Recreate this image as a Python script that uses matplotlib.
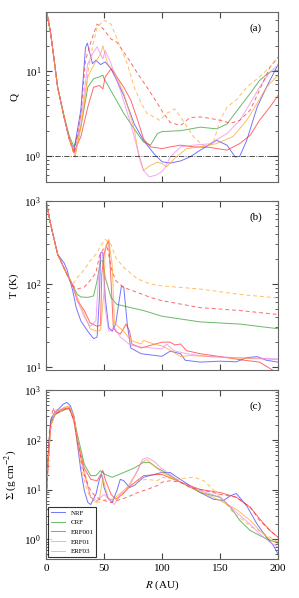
import matplotlib
matplotlib.use("Agg")
import matplotlib.pyplot as plt

plt.rcParams['font.family'] = ['Liberation Serif', 'DejaVu Serif']
plt.rcParams['mathtext.fontset'] = 'stix'

# ---- panel (a): Toomre Q ----
r_nrf_a = [0, 4, 10, 15.5, 20, 24, 30, 34, 35.6, 40, 43, 47, 51, 56, 61, 67, 76, 84, 93, 100,
           107, 116, 124, 133, 147, 156, 163, 167, 173, 182, 190, 200]
q_nrf = [55, 28, 6.5, 2.9, 1.6, 1.17, 3.5, 19, 21.5, 12.3, 13.5, 12, 12.9, 10.7, 7.8, 5.2, 2.4, 1.54, 1.07, 0.86,
         0.83, 0.88, 0.98, 1.18, 1.54, 1.35, 0.98, 1.0, 1.54, 3.8, 6.5, 12]
r_crf_a = [0, 4, 10, 15.5, 20, 24, 30, 36, 41, 46, 49, 50, 59, 67, 76, 84, 90, 96, 100, 116, 133, 147,
           156, 167, 176, 184, 193, 200]
q_crf = [55, 28, 6.5, 3.0, 1.75, 1.29, 2.2, 6.5, 8.2, 8.6, 9, 8.2, 5, 3.2, 2.1, 1.47, 1.35, 1.85, 1.95, 2.0, 2.2, 2.1,
         2.4, 3.8, 5.5, 7.8, 9.8, 10.3]
r_e001_a = [0, 4, 10, 15.5, 20, 24, 30, 36, 41, 46, 49, 51, 56, 61, 67, 73, 79, 84, 90, 100, 107, 116, 127,
            141, 156, 167, 176, 184, 193, 200]
q_e001 = [55, 28, 6.5, 2.9, 1.6, 1.12, 1.7, 3.8, 6.5, 6.8, 6.2, 8.6, 10.7, 8.6, 6.5, 4.6, 2.65, 1.6, 1.29, 1.23, 1.29,
          1.35, 1.29, 1.27, 1.18, 1.41, 1.77, 2.65, 3.8, 5.2]
r_e001d_a = [0, 4, 10, 15.5, 20, 24, 30, 34, 39, 44, 49, 56, 61, 70, 79, 87, 96, 100, 107, 116, 124, 133,
             141, 150, 159, 167, 176, 184, 193, 200]
q_e001d = [55, 28, 6.5, 2.9, 1.6, 1.07, 3.2, 13.5, 23, 36, 32, 24, 22, 14.7, 9.4, 6.5, 4.2, 3.4, 2.5, 2.3, 2.85, 2.9,
           2.8, 2.65, 2.45, 2.65, 3.5, 6, 11.2, 14.7]
r_e01_a = [0, 4, 10, 15.5, 20, 25, 30, 36, 41, 47, 49, 53, 59, 67, 76, 80, 84, 90, 96, 100, 104, 110, 121,
           133, 147, 161, 173, 182, 190, 200]
q_e01 = [55, 28, 6.5, 2.9, 1.6, 0.98, 2.2, 8.6, 11.8, 16, 20, 12.3, 9.8, 5.5, 2.1, 0.98, 0.68, 0.78, 0.85, 0.82, 0.75,
         0.92, 1.23, 1.29, 1.41, 1.7, 2.65, 4.2, 6.5, 9]
r_e01d_a = [0, 4, 10, 15.5, 20, 25, 31, 36, 40, 44, 50, 56, 63, 70, 76, 82, 87, 93, 98, 104, 111, 118, 127,
            136, 144, 150, 156, 164, 173, 184, 193, 200]
q_e01d = [55, 28, 6.5, 2.9, 1.6, 0.98, 2.65, 9.4, 19.4, 33, 40, 36, 21, 12.3, 6.5, 4.2, 3.2, 2.9, 2.65, 3.2, 3.6,
          2.65, 1.7, 1.31, 1.41, 2.65, 3.8, 4.6, 6.5, 8.6, 11.2, 14.7]
r_e03_a = [0, 4, 10, 15.5, 20, 25, 31, 36, 40, 44, 49, 51, 56, 64, 73, 79, 84, 89, 95, 100, 103, 107, 116,
           127, 141, 156, 167, 176, 184, 193, 200]
q_e03 = [55, 28, 6.5, 2.9, 1.6, 1.07, 3.5, 12.3, 16, 19.4, 14, 17.6, 12.3, 6, 2.4, 1.18, 0.68, 0.57, 0.6, 0.66, 0.75,
         0.98, 1.29, 1.35, 1.4, 1.85, 2.65, 4.2, 6.5, 9.8, 11.8]

# ---- panel (b): temperature ----
r_nrf_b = [0, 4, 10, 15.5, 18, 23, 26, 30, 36, 41, 44, 46, 47, 49, 51, 54, 57, 60, 63, 65, 67, 70, 73, 82,
           100, 107, 116, 120, 133, 150, 164, 173, 182, 190, 200]
t_nrf = [1000, 520, 228, 180, 150, 83, 52, 36, 27, 22, 23, 69, 238, 238, 69, 30, 27, 33, 63, 95, 91, 33, 17, 14.5,
         13.5, 15.6, 14.5, 12.1, 11.5, 11.8, 11.6, 13, 13.4, 12.1, 11.5]
r_crf_b = [0, 4, 10, 14, 18, 23, 27, 30, 36, 41, 44, 47, 49, 51, 56, 61, 73, 84, 100, 133, 167, 200]
t_crf = [1000, 520, 228, 173, 131, 97, 75, 70, 69, 72, 110, 190, 190, 120, 69, 57, 52, 48, 41, 35, 33, 29]
r_e001_b = [0, 4, 10, 14, 18, 23, 27, 33, 38, 44, 47, 48, 50, 53, 54, 56, 58, 60, 64, 69, 72, 74, 82, 100,
            107, 111, 116, 121, 133, 150, 167, 184, 196, 200]
t_e001 = [1000, 520, 228, 173, 131, 95, 63, 48, 34, 31, 32, 130, 230, 314, 330, 110, 30, 27, 25, 33, 27, 19, 17, 20,
          20, 18.5, 19, 15.8, 14.5, 13.4, 12.3, 11.5, 9.1, 8.5]
r_e001d_b = [0, 4, 10, 14, 18, 23, 27, 33, 38, 43, 46, 49, 53, 56, 60, 67, 79, 90, 100, 133, 167, 200]
t_e001d = [1000, 520, 228, 173, 131, 95, 87, 92, 110, 137, 218, 261, 273, 158, 110, 91, 79, 69, 63, 52, 48, 43]
r_e01_b = [0, 4, 10, 14, 18, 23, 27, 33, 38, 44, 47, 50, 51, 54, 57, 59, 61, 67, 73, 82, 84, 93, 100, 107,
           116, 124, 141, 167, 184, 200]
t_e01 = [1000, 520, 228, 173, 131, 97, 69, 43, 29, 27, 28, 83, 273, 345, 173, 33, 32, 27, 21, 19, 21, 19, 18, 16,
         13.4, 13.8, 13.4, 12.8, 12.6, 12.3]
r_e01d_b = [0, 4, 10, 14, 18, 23, 27, 33, 38, 43, 47, 51, 56, 60, 67, 79, 90, 100, 133, 167, 200]
t_e01d = [1000, 520, 228, 173, 131, 100, 120, 150, 190, 228, 286, 345, 300, 208, 158, 115, 100, 95, 87, 75, 68]
r_e03_b = [0, 4, 10, 14, 18, 23, 27, 33, 38, 43, 45, 47, 49, 51, 54, 59, 64, 73, 84, 100, 104, 110, 121,
           141, 167, 200]
t_e03 = [1000, 520, 228, 173, 131, 97, 63, 40, 31, 36, 110, 238, 238, 52, 27, 30, 23, 18.3, 17.3, 16.6, 19, 15.8,
         14.5, 13.4, 13, 12.6]

# ---- panel (c): surface density ----
r_nrf_c = [0, 2, 4, 7, 11, 15, 18, 21, 24, 27, 30, 33, 36, 38.5, 43, 46, 48, 50, 53, 57, 61, 64, 67, 72, 76,
           84, 93, 100, 107, 113, 124, 133, 144, 153, 159, 164, 173, 182, 190, 196, 200]
s_nrf = [8, 60, 250, 340, 420, 520, 560, 480, 300, 81, 24, 9.5, 5.5, 5, 8, 16, 20, 11, 7, 5.5, 9.5, 16, 15, 11, 12,
         17.6, 20, 22, 22, 17.6, 12, 8.7, 6.4, 6, 7.5, 8.3, 4.7, 2.0, 1.1, 0.75, 0.5]
r_crf_c = [0, 2, 4, 8, 12, 16, 20, 21, 24, 27, 33, 38.5, 43, 47, 51, 57, 67, 76, 84, 89, 96, 100, 116, 133,
           150, 159, 167, 176, 184, 193, 200]
s_crf = [7, 50, 230, 320, 360, 400, 420, 375, 275, 128, 32, 19, 19, 24, 20, 17.6, 22, 27, 35, 35, 27, 24, 14, 8.7,
         7, 4.4, 2.4, 1.5, 1.2, 0.95, 0.87]
r_e001_c = [0, 2, 4, 8, 12, 16, 20, 24, 27, 33, 38.5, 44, 49, 51, 56, 60, 66, 73, 84, 96, 100, 116, 133, 150,
            164, 176, 184, 193, 200]
s_e001 = [5, 40, 200, 330, 380, 420, 430, 236, 94, 27, 16, 15, 24, 16, 8, 6.4, 8, 12, 19, 20, 20, 14, 10, 8.7,
          7, 4.4, 2.6, 1.5, 1.1]
r_e001d_c = [0, 1.5, 3, 6, 8, 12, 16, 20, 24, 27, 33, 37, 41, 46, 50, 56, 61, 70, 79, 87, 96, 100, 107, 116,
             124, 133, 150, 164, 176, 184, 193, 200]
s_e001d = [3, 30, 150, 440, 330, 370, 410, 420, 250, 94, 20, 11, 8, 6.4, 6, 5.5, 6, 7, 8.7, 10, 12, 14, 15, 14,
           11, 10, 8, 7, 4.4, 2.4, 1.5, 1.1]
r_e01_c = [0, 2, 4, 8, 12, 16, 20, 24, 27, 33, 38.5, 43, 46, 49, 51, 54, 57, 63, 70, 77, 82, 87, 93, 100, 116,
           133, 150, 164, 176, 184, 193, 200]
s_e01 = [5, 40, 200, 330, 400, 450, 470, 300, 110, 24, 7, 5.5, 6.4, 17.6, 11, 6.4, 6.2, 8, 11, 20, 35, 40, 30, 22,
         14, 9, 6, 4, 2.4, 1.5, 1.0, 0.8]
r_e01d_c = [0, 2, 4, 8, 12, 16, 20, 24, 27, 31, 34, 37, 41, 46, 50, 54, 59, 64, 70, 79, 87, 96, 100, 113, 121,
            127, 136, 144, 153, 161, 170, 177, 182, 190, 200]
s_e01d = [5, 40, 150, 400, 380, 420, 450, 275, 81, 24, 12, 8, 6, 5.5, 6.2, 6.4, 6.4, 7, 11, 15, 16, 15, 17.6, 16,
          17, 17.8, 15, 10, 6, 3.5, 2.4, 1.75, 1.6, 1.2, 0.9]
r_e03_c = [0, 2, 4, 8, 12, 16, 20, 24, 27, 33, 38.5, 44, 50, 54, 59, 64, 70, 79, 83, 87, 93, 100, 107, 116,
           133, 150, 164, 176, 184, 193, 200]
s_e03 = [5, 40, 200, 330, 400, 440, 450, 275, 94, 20, 7, 6, 8, 6.4, 5, 8, 10, 24, 40, 44, 37, 26, 20, 14, 9.5,
         7, 3.5, 2.0, 1.3, 0.87, 0.7]

labels = ['NRF', 'CRF', 'ERF001', 'ERF01', 'ERF03']
colors = ['#3a3aff', '#2e9a2e', '#ff2a2a', '#ffa21f', '#ee82ee']


def style_axis(ax, ylim, ylabel, tag, show_x):
    ax.set_yscale('log')
    ax.set_xlim(0, 200)
    ax.set_ylim(*ylim)
    ax.set_xticks([0, 50, 100, 150, 200])
    ax.tick_params(which='both', direction='in', top=True, right=True,
                   labelsize=8, colors='#444444', labelcolor='black')
    ax.tick_params(which='major', length=4)
    ax.tick_params(which='minor', length=2)
    for s in ax.spines.values():
        s.set_color('#666666')
    ax.set_ylabel(ylabel, fontsize=8)
    if not show_x:
        ax.set_xticklabels([])
    ax.text(0.93, 0.93, tag, transform=ax.transAxes, ha='right', va='top', fontsize=8)


def draw_panel(ax, solid, dashed):
    for (r, v), c, lab in zip(solid, colors, labels):
        ax.plot(r, v, color=c, lw=0.7, alpha=0.7, label=lab)
    for (r, v), c in dashed:
        ax.plot(r, v, color=c, lw=0.7, alpha=0.7, dashes=(4, 3))


fig = plt.figure(figsize=(2.99, 5.98), dpi=100)
ax1 = fig.add_axes([0.154, 0.696, 0.776, 0.284])
ax2 = fig.add_axes([0.154, 0.381, 0.776, 0.283])
ax3 = fig.add_axes([0.154, 0.065, 0.776, 0.283])

draw_panel(ax1,
           [(r_nrf_a, q_nrf), (r_crf_a, q_crf), (r_e001_a, q_e001), (r_e01_a, q_e01), (r_e03_a, q_e03)],
           [((r_e001d_a, q_e001d), colors[2]), ((r_e01d_a, q_e01d), colors[3])])
ax1.axhline(1.0, color='#333333', lw=0.6, ls='-.')
style_axis(ax1, (0.5, 50), 'Q', '(a)', False)

draw_panel(ax2,
           [(r_nrf_b, t_nrf), (r_crf_b, t_crf), (r_e001_b, t_e001), (r_e01_b, t_e01), (r_e03_b, t_e03)],
           [((r_e001d_b, t_e001d), colors[2]), ((r_e01d_b, t_e01d), colors[3])])
style_axis(ax2, (9.2, 1000), 'T (K)', '(b)', False)

draw_panel(ax3,
           [(r_nrf_c, s_nrf), (r_crf_c, s_crf), (r_e001_c, s_e001), (r_e01_c, s_e01), (r_e03_c, s_e03)],
           [((r_e001d_c, s_e001d), colors[2]), ((r_e01d_c, s_e01d), colors[3])])
style_axis(ax3, (0.4, 1000), r'$\Sigma$ (g cm$^{-2}$)', '(c)', True)
ax3.set_xlabel(r'$R$ (AU)', fontsize=8)

leg = ax3.legend(loc='lower left', fontsize=5, frameon=True, fancybox=False,
                 handlelength=2.0, handletextpad=0.8, borderaxespad=0.3,
                 labelspacing=0.55, borderpad=0.4)
leg.get_frame().set_edgecolor('black')
leg.get_frame().set_linewidth(0.8)

fig.savefig('out.png', dpi=100)
